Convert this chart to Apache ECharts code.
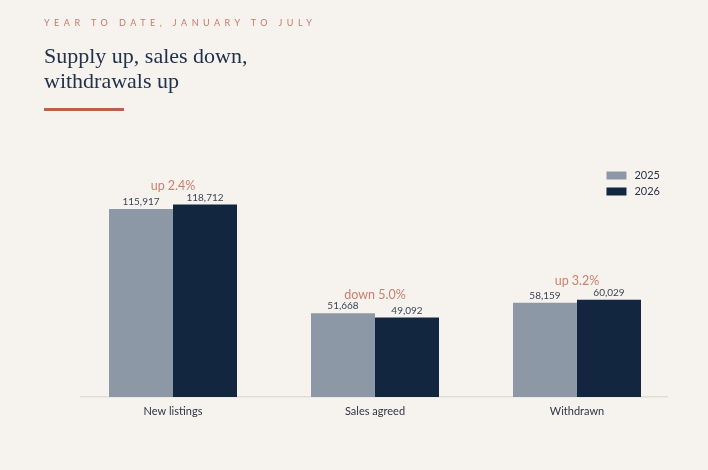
<!DOCTYPE html>
<html>
<head>
<meta charset="utf-8">
<script src="https://cdn.jsdelivr.net/npm/echarts@6/dist/echarts.min.js"></script>
<style>
  html, body { margin: 0; padding: 0; background: #f6f3ef; }
  #wrap { position: relative; width: 708px; height: 470px; }
  #chart { position: absolute; left: 0; top: 0; width: 708px; height: 470px; }
  .eyebrow {
    position: absolute; left: 44px; top: 17px;
    font-family: "Lato", "Noto Sans", sans-serif; font-size: 9px;
    letter-spacing: 4.5px; color: #c47a66; white-space: nowrap;
  }
  .headline {
    position: absolute; left: 44px; top: 43px;
    font-family: "Liberation Serif", "DejaVu Serif", serif; font-size: 22px;
    line-height: 25px; color: #22324a; z-index: 2;
  }
  .rule {
    position: absolute; left: 44px; top: 108px; width: 80px; height: 3px;
    background: #b8614c;
  }
</style>
</head>
<body>
<div id="wrap">
  <div id="chart"></div>
  <div class="eyebrow">YEAR TO DATE, JANUARY TO JULY</div>
  <div class="headline">Supply up, sales down,<br>withdrawals up</div>
  <div class="rule"></div>
</div>
<script>
var categories = ['New listings', 'Sales agreed', 'Withdrawn'];
var values2025 = [115917, 51668, 58159];
var values2026 = [118712, 49092, 60029];
var changeNotes = ['up 2.4%', 'down 5.0%', 'up 3.2%'];

var labelFont = 'Lato, "Noto Sans", sans-serif';

var myChart = echarts.init(document.getElementById('chart'));

var option = {
  backgroundColor: 'transparent',
  animation: false,
  grid: { left: 72, right: 30, top: 170, bottom: 73 },
  legend: {
    orient: 'vertical',
    right: 43,
    top: 165,
    itemWidth: 20,
    itemHeight: 8,
    itemGap: 5,
    icon: 'rect',
    data: ['2025', '2026'],
    textStyle: { fontFamily: labelFont, fontSize: 11, color: '#2b3545', padding: [0, 0, 0, 3] }
  },
  xAxis: {
    type: 'category',
    data: categories,
    axisLine: { show: false },
    axisTick: { show: false },
    axisLabel: { fontFamily: labelFont, fontSize: 11, color: '#2b3545', margin: 9 }
  },
  yAxis: {
    type: 'value',
    min: 0,
    max: 140000,
    show: false,
    splitLine: { show: false }
  },
  graphic: [{
    type: 'rect',
    left: 80,
    top: 396,
    shape: { width: 588, height: 1.5 },
    style: { fill: '#e2ddd7' },
    z: 0
  }],
  series: [
    {
      name: '2025',
      type: 'bar',
      data: values2025,
      barWidth: 64,
      barGap: '0%',
      itemStyle: { color: '#8d98a6' },
      label: {
        show: true, position: 'top', distance: 2,
        fontFamily: labelFont, fontSize: 10, color: '#3a4556',
        formatter: function (p) { return p.value.toLocaleString('en-US'); }
      }
    },
    {
      name: '2026',
      type: 'bar',
      data: values2026,
      barWidth: 64,
      itemStyle: { color: '#12263f' },
      label: {
        show: true, position: 'top', distance: 2,
        fontFamily: labelFont, fontSize: 10, color: '#3a4556',
        formatter: function (p) { return p.value.toLocaleString('en-US'); }
      }
    },
    {
      name: 'change',
      type: 'scatter',
      symbolSize: 0,
      silent: true,
      data: values2025.map(function (v, i) { return Math.max(v, values2026[i]); }),
      label: {
        show: true, position: 'top', distance: 12,
        fontFamily: labelFont, fontSize: 12.5, color: '#c0634e',
        formatter: function (p) { return changeNotes[p.dataIndex]; }
      }
    }
  ]
};

myChart.setOption(option);
</script>
</body>
</html>
